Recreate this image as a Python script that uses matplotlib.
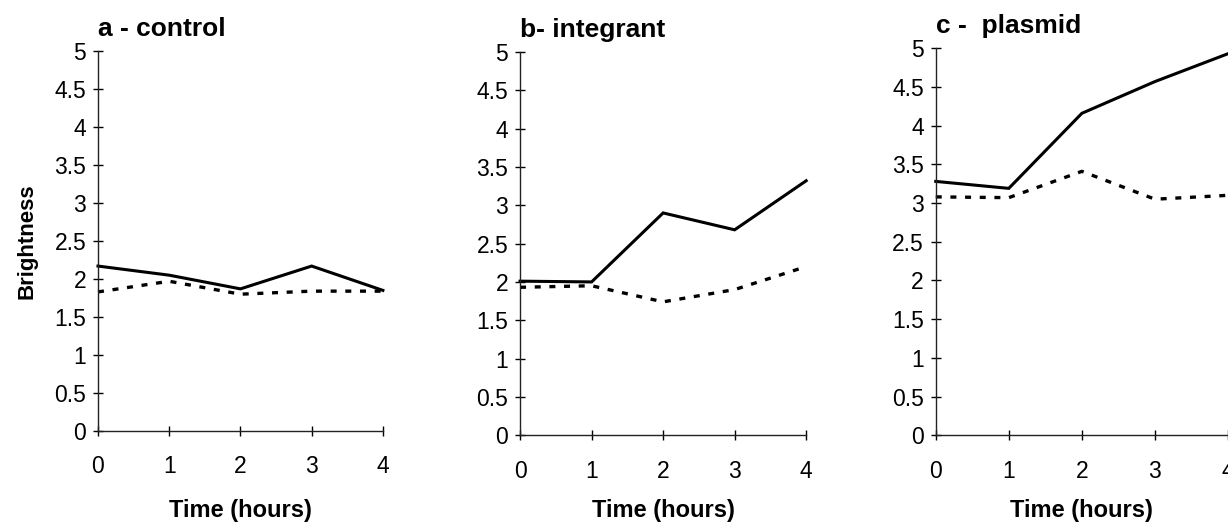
import numpy as np
import matplotlib.pyplot as plt

plt.rcParams['font.family'] = ['Liberation Sans', 'DejaVu Sans']

# Data
hours = [0, 1, 2, 3, 4]
titles = ['a - control', 'b- integrant', 'c -  plasmid']

solid_a = [2.17, 2.05, 1.87, 2.17, 1.85]
dotted_a = [1.83, 1.97, 1.80, 1.84, 1.84]

solid_b = [2.01, 2.00, 2.90, 2.68, 3.32]
dotted_b = [1.93, 1.95, 1.74, 1.90, 2.20]

solid_c = [3.28, 3.19, 4.16, 4.57, 4.93]
dotted_c = [3.08, 3.07, 3.41, 3.05, 3.10]

y_ticks = [0, 0.5, 1, 1.5, 2, 2.5, 3, 3.5, 4, 4.5, 5]
y_labels = ['0', '0.5', '1', '1.5', '2', '2.5', '3', '3.5', '4', '4.5', '5']

fig = plt.figure(figsize=(12.28, 5.25), dpi=100)

# axes boxes (left, bottom, width, height) in figure fraction
boxes = [
    [0.0798, 0.179, 0.232, 0.724],
    [0.4235, 0.171, 0.233, 0.730],
    [0.762, 0.171, 0.238, 0.737],
]
xlabel_pads = [15, 12, 12]
solids = [solid_a, solid_b, solid_c]
dotteds = [dotted_a, dotted_b, dotted_c]

for i in range(3):
    ax = fig.add_axes(boxes[i])
    ax.plot(hours, solids[i], color='black', lw=2.2, solid_joinstyle='miter', clip_on=False)
    ax.plot(hours, dotteds[i], color='black', lw=2.4, dashes=(1.8, 2.6), clip_on=False)

    ax.set_xlim(0, 4)
    ax.set_ylim(0, 5)
    ax.set_xticks(hours)
    ax.set_yticks(y_ticks)
    ax.set_yticklabels(y_labels)

    for s in ['top', 'right']:
        ax.spines[s].set_visible(False)
    for s in ['left', 'bottom']:
        ax.spines[s].set_linewidth(1.0)
        ax.spines[s].set_color('#222222')

    ax.tick_params(axis='y', direction='inout', length=7, width=1.0, pad=5, labelsize=16.5)
    ax.tick_params(axis='x', direction='inout', length=7, width=1.0, pad=14, labelsize=16.5)

    ax.set_title(titles[i], loc='left', fontsize=19, fontweight='bold', pad=11)
    ax.set_xlabel('Time (hours)', fontsize=17, fontweight='bold', labelpad=xlabel_pads[i])
    if i == 0:
        ax.set_ylabel('Brightness', fontsize=16, fontweight='bold', labelpad=12)

fig.savefig('out.png', dpi=100)
